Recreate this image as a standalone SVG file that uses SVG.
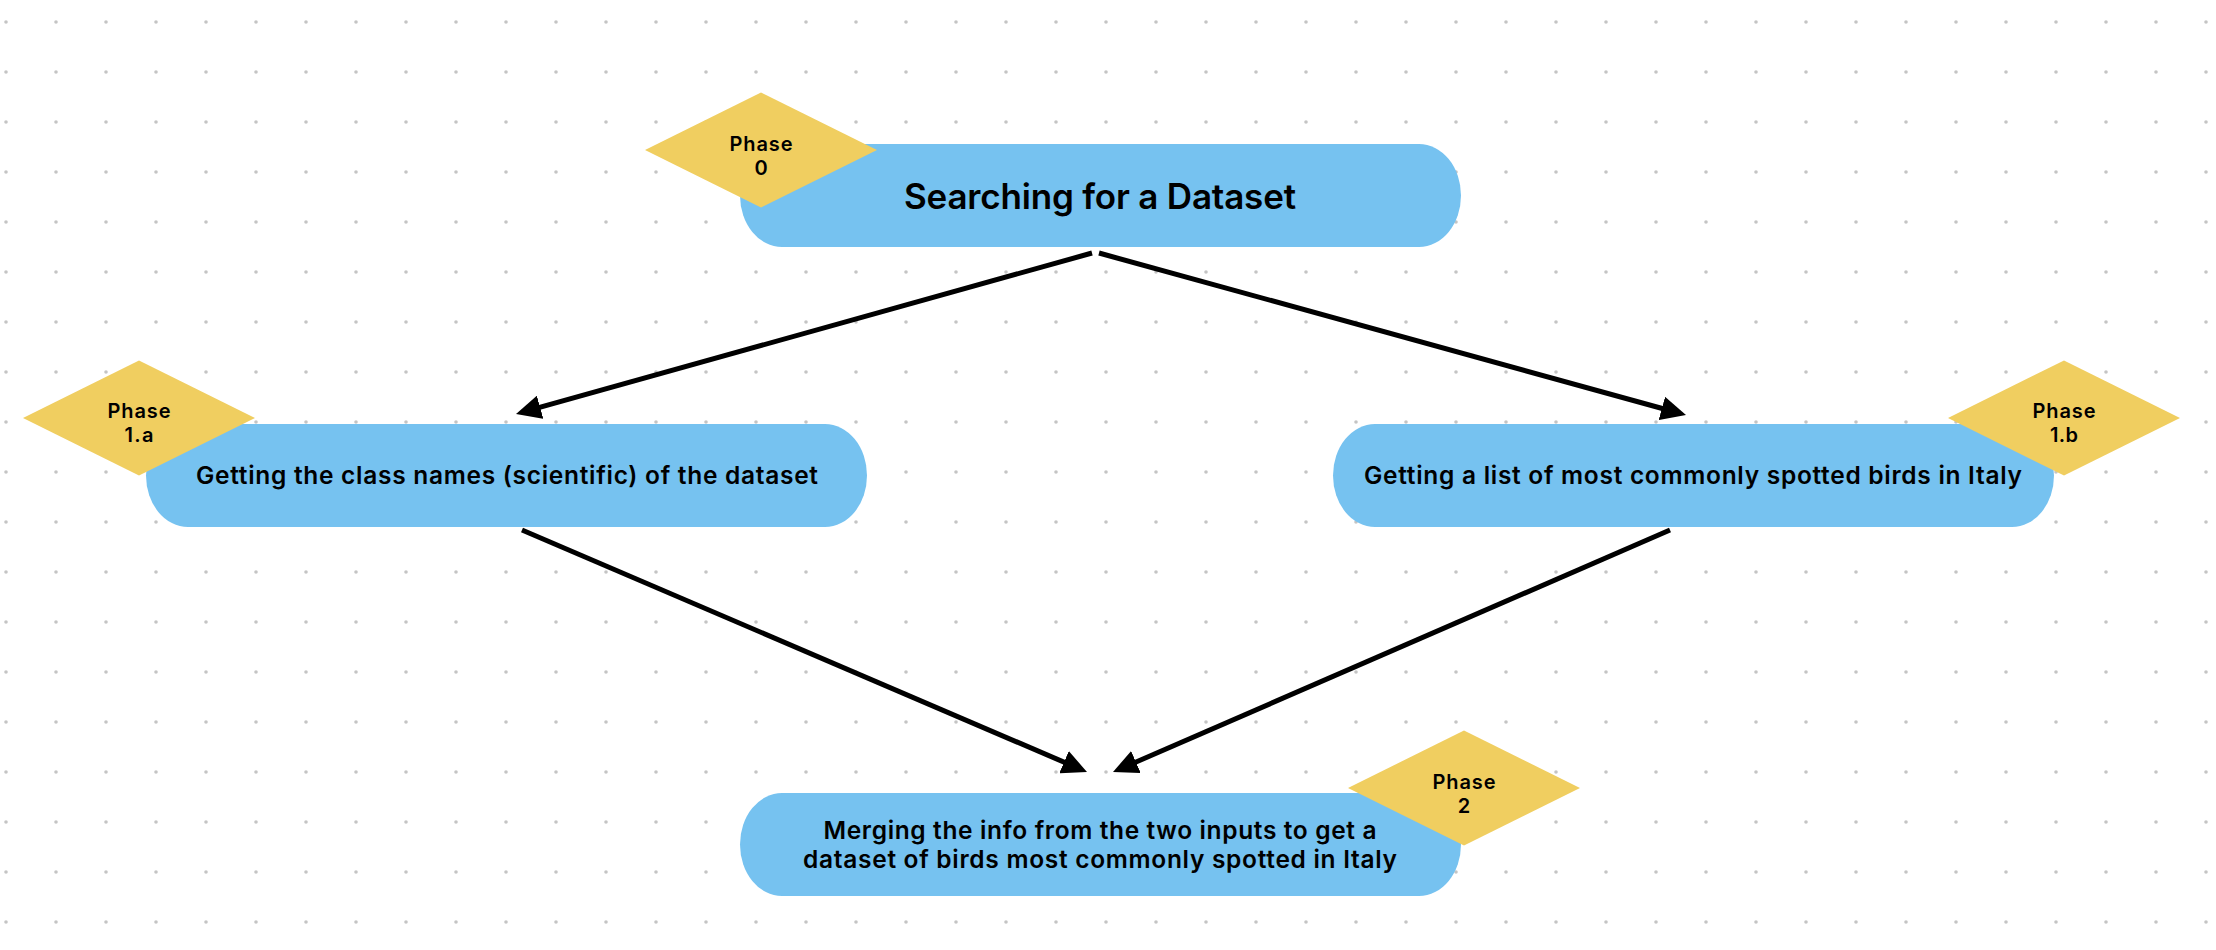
<svg xmlns="http://www.w3.org/2000/svg" width="2216" height="950" viewBox="0 0 2216 950">
<defs>
<pattern id="dots" x="0" y="0" width="50" height="50" patternUnits="userSpaceOnUse">
<circle cx="6" cy="22" r="1.8" fill="#c4c4c4"/>
</pattern>
<marker id="arrow" markerUnits="userSpaceOnUse" viewBox="0 0 25 24" refX="8" refY="12" markerWidth="25" markerHeight="24" orient="auto">
<path d="M0,0 L25,12 L0,24 z" fill="#000"/>
</marker>
</defs>
<style>
.node{fill:#76c2f0;}
.badge{fill:#f0ce60;}
.t{font-family:Inter,"Liberation Sans",sans-serif;font-weight:600;fill:#000;text-anchor:middle;}
.title{font-size:35px;}
.lbl{font-size:24.5px;}
.ph{font-size:20px;}
.conn{stroke:#000;stroke-width:5;fill:none;marker-end:url(#arrow);}
</style>
<rect x="0" y="0" width="2216" height="950" fill="#fff"/>
<rect x="0" y="0" width="2216" height="950" fill="url(#dots)"/>
<g id="connectors">
<line class="conn" x1="1092" y1="253" x2="532.4" y2="409.4"/>
<line class="conn" x1="1099" y1="253" x2="1669.6" y2="410.5"/>
<line class="conn" x1="522" y1="530" x2="1071.4" y2="765.3"/>
<line class="conn" x1="1670" y1="530" x2="1128.6" y2="765.2"/>
</g>
<g id="node-phase0">
<rect class="node" x="740" y="144" width="721" height="103" rx="42" ry="51.5"/>
<text class="t title" x="1100" y="209" textLength="392">Searching for a Dataset</text>
<polygon class="badge" points="645,150 761,92.5 877,150 761,207.5"/>
<text class="t ph" x="761" y="151" textLength="63">Phase</text>
<text class="t ph" x="761" y="175">0</text>
</g>
<g id="node-phase1a">
<rect class="node" x="146" y="424" width="721" height="103" rx="42" ry="51.5"/>
<text class="t lbl" x="507" y="484" textLength="622">Getting the class names (scientific) of the dataset</text>
<polygon class="badge" points="23,418 139,360.5 255,418 139,475.5"/>
<text class="t ph" x="139" y="418" textLength="63">Phase</text>
<text class="t ph" x="139" y="442" textLength="29">1.a</text>
</g>
<g id="node-phase1b">
<rect class="node" x="1333" y="424" width="721" height="103" rx="42" ry="51.5"/>
<text class="t lbl" x="1693" y="484" textLength="658">Getting a list of most commonly spotted birds in Italy</text>
<polygon class="badge" points="1948,418 2064,360.5 2180,418 2064,475.5"/>
<text class="t ph" x="2064" y="418" textLength="63">Phase</text>
<text class="t ph" x="2064" y="442" textLength="28">1.b</text>
</g>
<g id="node-phase2">
<rect class="node" x="740" y="793" width="721" height="103" rx="42" ry="51.5"/>
<text class="t lbl" x="1100" y="839" textLength="553">Merging the info from the two inputs to get a</text>
<text class="t lbl" x="1100" y="868" textLength="594">dataset of birds most commonly spotted in Italy</text>
<polygon class="badge" points="1348,788 1464,730.5 1580,788 1464,845.5"/>
<text class="t ph" x="1464" y="789" textLength="63">Phase</text>
<text class="t ph" x="1464" y="813">2</text>
</g>
</svg>
